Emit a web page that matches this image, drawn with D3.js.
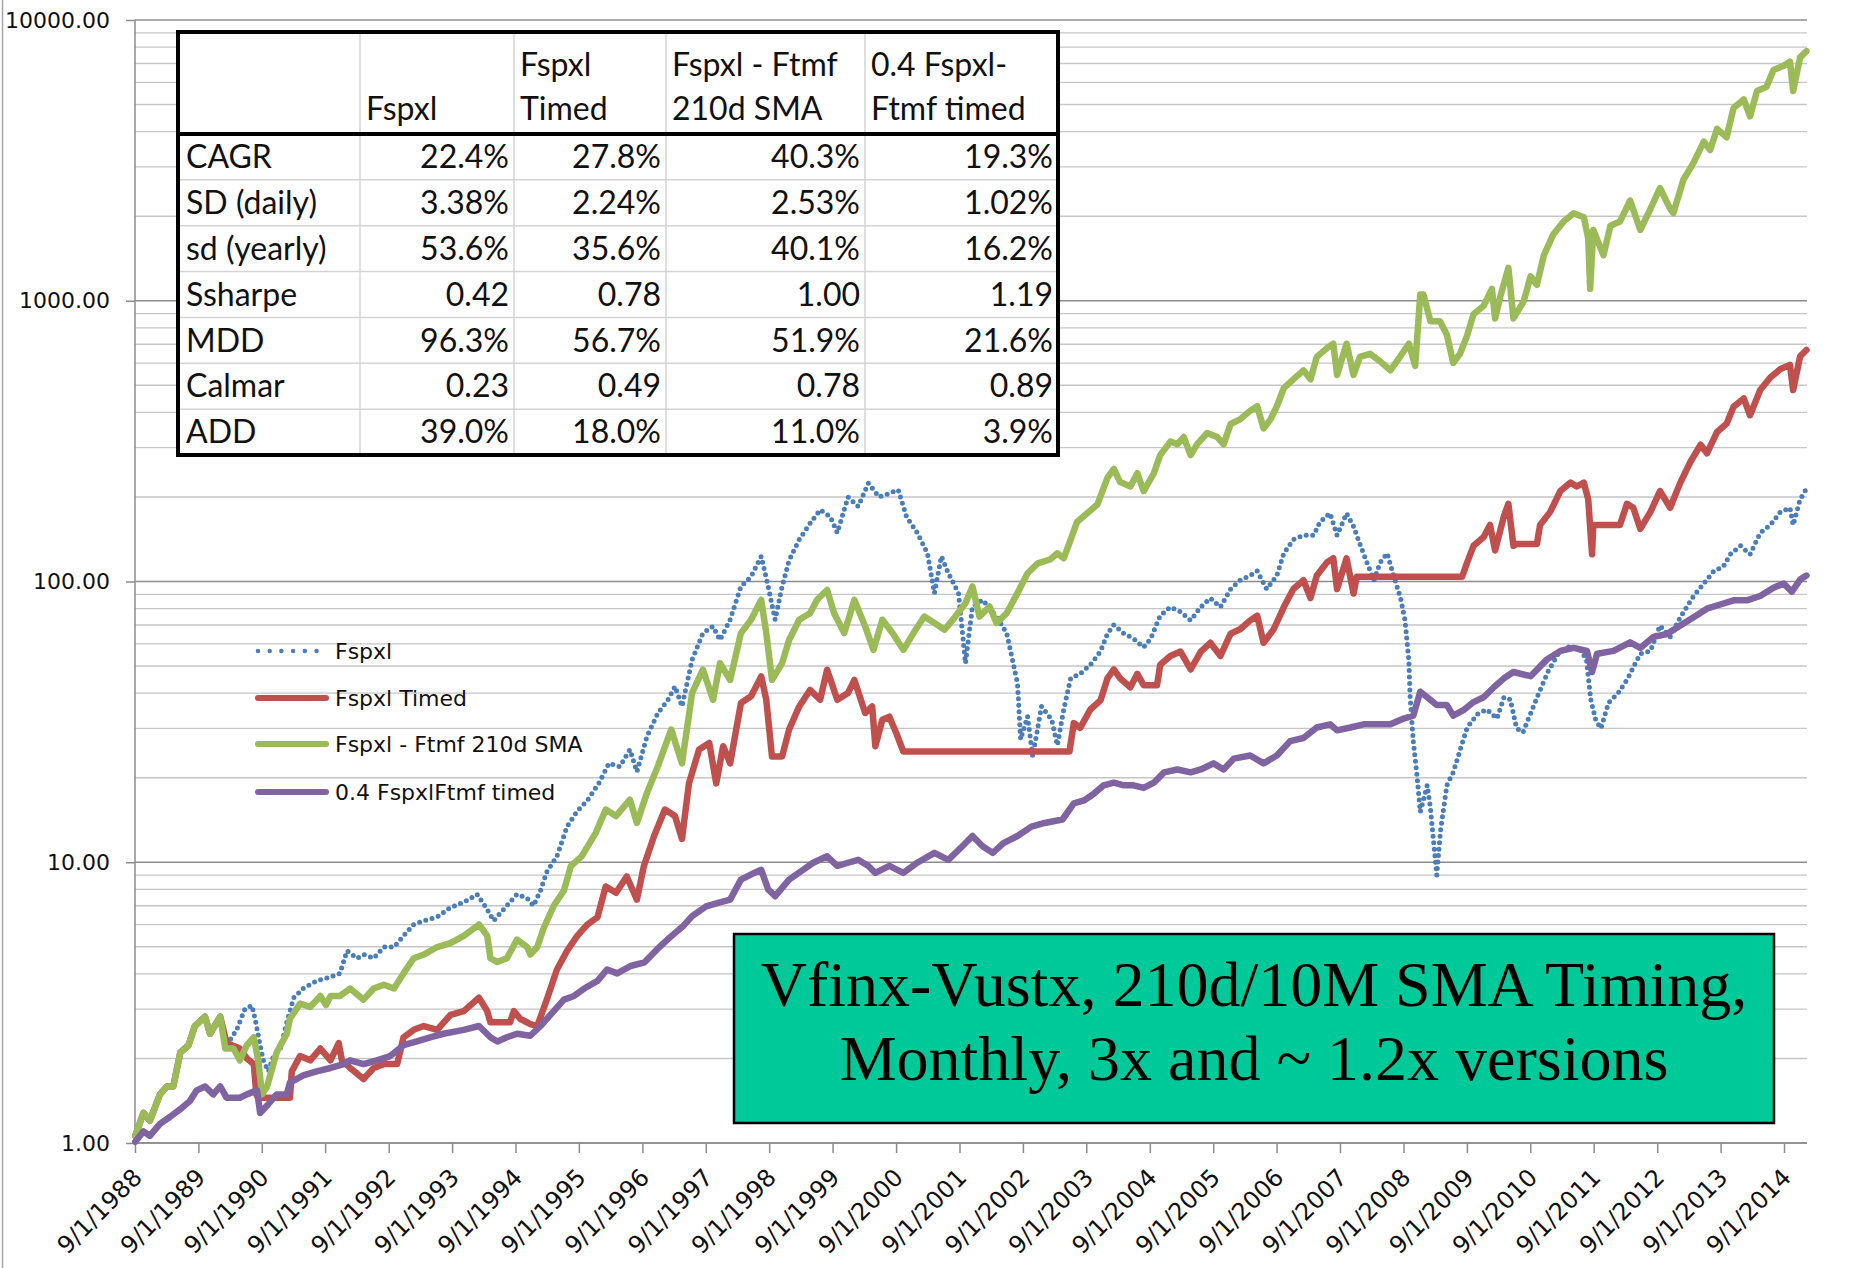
<!DOCTYPE html>
<html>
<head>
<meta charset="utf-8">
<script src="https://cdn.jsdelivr.net/npm/d3@7"></script>
<style>
  body { margin: 0; background: #fff; }
  svg { display: block; }
</style>
</head>
<body>
<div id="chart"></div>
<script>
// values, [decimal year, growth of $1]
const fspxl = [
  [1988.67,1.06],[1988.80,1.28],[1988.90,1.20],[1989.06,1.49],[1989.17,1.59],[1989.27,1.59],[1989.38,2.10],
  [1989.51,2.23],[1989.61,2.61],[1989.77,2.82],[1989.85,2.45],[1990.01,2.82],[1990.11,2.23],[1990.27,2.53],
  [1990.40,3.0],[1990.51,3.09],[1990.56,2.77],[1990.64,2.23],[1990.69,1.97],[1990.77,1.80],[1990.85,2.04],
  [1990.96,2.17],[1991.06,2.69],[1991.17,3.29],[1991.32,3.55],[1991.53,3.78],[1991.75,3.90],[1991.90,4.02],
  [1992.01,4.84],[1992.17,4.55],[1992.27,4.69],[1992.43,4.55],[1992.59,4.99],[1992.75,4.99],[1992.90,5.47],
  [1993.06,6.0],[1993.22,6.19],[1993.43,6.38],[1993.64,6.9],[1993.85,7.2],[1994.06,7.69],[1994.22,6.8],
  [1994.32,6.19],[1994.48,6.8],[1994.69,7.69],[1994.85,7.45],[1994.95,7.0],[1995.06,7.93],[1995.16,9.24],
  [1995.32,10.5],[1995.48,13.4],[1995.64,15.2],[1995.80,16.6],[1995.98,19.1],[1996.14,22.5],[1996.31,21.9],
  [1996.47,25.2],[1996.58,21],[1996.74,28.1],[1996.91,34],[1997.07,37.9],[1997.18,42.3],[1997.29,35.9],
  [1997.45,52.6],[1997.62,65.5],[1997.78,69.2],[1997.89,61.9],[1998.05,73.1],[1998.22,96],[1998.38,104],
  [1998.54,123],[1998.65,96],[1998.76,73.1],[1998.87,96],[1998.98,119],[1999.14,141],[1999.31,161],
  [1999.47,180],[1999.63,170],[1999.74,149],[1999.91,200],[2000.07,185],[2000.23,224],[2000.40,200],
  [2000.56,206],[2000.70,212],[2000.83,170],[2001.00,149],[2001.16,126],[2001.27,90.9],[2001.38,123],
  [2001.49,107],[2001.65,90.9],[2001.76,51.2],[2001.87,81.5],[2002.03,86],[2002.25,75],[2002.41,65.5],
  [2002.58,43.5],[2002.63,27.4],[2002.74,33.1],[2002.82,23.8],[2002.96,35.9],[2003.12,32.2],[2003.21,26.1],
  [2003.31,35],[2003.42,45.2],[2003.57,46.9],[2003.73,50.5],[2003.89,56.3],[2004.00,65.2],[2004.10,70.1],
  [2004.26,65.2],[2004.41,62.6],[2004.57,58.3],[2004.68,62.6],[2004.83,75.6],[2004.99,81.1],[2005.15,78],
  [2005.31,72.7],[2005.47,81.1],[2005.62,87.3],[2005.78,81.1],[2005.94,94],[2006.09,101],[2006.25,105],
  [2006.36,109],[2006.51,94],[2006.67,105],[2006.78,126],[2006.93,141],[2007.09,146],[2007.25,146],
  [2007.35,163],[2007.51,175],[2007.62,146],[2007.77,175],[2007.88,157],[2007.98,136],[2008.09,117],
  [2008.20,101],[2008.30,117],[2008.41,126],[2008.51,105],[2008.62,87.3],[2008.69,72.7],[2008.75,52.4],
  [2008.77,39],[2008.82,27],[2008.88,20.2],[2008.93,15.1],[2009.04,18.8],[2009.09,15.6],[2009.19,9.0],
  [2009.25,13],[2009.35,18.8],[2009.45,20.9],[2009.56,25.2],[2009.67,30.2],[2009.83,33.7],[2009.98,35],
  [2010.14,32.5],[2010.25,38.7],[2010.35,38],[2010.45,30],[2010.55,29],[2010.65,33],[2010.80,40],
  [2010.95,48],[2011.10,55],[2011.30,59],[2011.45,57],[2011.55,53],[2011.62,38],[2011.70,32],[2011.78,30],
  [2011.90,37],[2012.05,40],[2012.20,45],[2012.30,50],[2012.40,55.3],[2012.56,56.6],[2012.71,69.7],
  [2012.87,63.5],[2013.03,74.6],[2013.24,88.8],[2013.40,98.4],[2013.56,109],[2013.71,113],[2013.82,125],
  [2013.98,134],[2014.13,125],[2014.29,149],[2014.45,159],[2014.61,177],[2014.76,183],[2014.81,159],
  [2014.92,196],[2015.02,214]
];

const fspxlTimed = [
  [1988.67,1.06],[1988.80,1.28],[1988.90,1.20],[1989.06,1.49],[1989.17,1.59],[1989.27,1.59],[1989.38,2.10],
  [1989.51,2.23],[1989.61,2.61],[1989.77,2.82],[1989.85,2.45],[1990.01,2.82],[1990.11,2.27],[1990.32,2.17],
  [1990.43,2.0],[1990.54,1.91],[1990.58,1.49],[1990.61,1.45],[1991.11,1.45],[1991.14,1.80],[1991.27,2.04],
  [1991.43,1.97],[1991.59,2.17],[1991.75,1.97],[1991.88,2.27],[1991.93,1.97],[1992.06,1.85],[1992.27,1.69],
  [1992.43,1.85],[1992.59,1.91],[1992.80,1.91],[1992.90,2.38],[1993.06,2.53],[1993.22,2.61],[1993.43,2.53],
  [1993.64,2.86],[1993.85,2.95],[1994.09,3.29],[1994.22,2.95],[1994.27,2.69],[1994.58,2.69],[1994.64,2.95],
  [1994.74,2.77],[1994.90,2.65],[1995.01,2.61],[1995.16,3.24],[1995.32,4.15],[1995.48,4.84],[1995.64,5.47],
  [1995.80,6.0],[1995.96,6.38],[1996.09,8.2],[1996.25,7.78],[1996.42,8.9],[1996.58,7.36],[1996.69,9.7],
  [1996.85,12.4],[1997.02,15.4],[1997.18,14.6],[1997.29,12.1],[1997.40,19.1],[1997.56,25.2],[1997.72,26.6],
  [1997.83,19.1],[1997.94,25.9],[1998.05,22.5],[1998.22,36.9],[1998.38,39],[1998.54,45.9],[1998.62,37.9],
  [1998.71,23.8],[1998.87,23.8],[1998.98,29.7],[1999.14,35.9],[1999.31,41.1],[1999.47,37.9],[1999.58,48.5],
  [1999.74,37.9],[1999.91,40.1],[2000.01,44.6],[2000.18,34],[2000.29,35.9],[2000.34,25.9],[2000.45,32.2],
  [2000.56,33],[2000.67,28.8],[2000.78,24.8],[2003.40,24.8],[2003.47,31.3],[2003.57,30.1],[2003.73,35],
  [2003.89,37.7],[2004.00,45.2],[2004.10,48.6],[2004.20,45.2],[2004.36,42],[2004.47,46.9],[2004.57,42.7],
  [2004.78,42.7],[2004.83,50.5],[2004.99,54.3],[2005.15,56.3],[2005.31,48.6],[2005.47,56.3],[2005.62,60.5],
  [2005.78,54.3],[2005.94,65.2],[2006.09,67.6],[2006.25,72.7],[2006.36,75.5],[2006.46,60.5],[2006.62,67.6],
  [2006.78,81.1],[2006.93,94],[2007.09,101],[2007.20,87.3],[2007.30,105],[2007.46,117],[2007.56,121],
  [2007.62,94],[2007.77,121],[2007.88,90.6],[2007.93,104],[2009.59,104],[2009.67,117],[2009.77,134],
  [2009.93,144],[2010.03,159],[2010.11,129],[2010.25,171],[2010.32,189],[2010.40,134],[2010.45,136],
  [2010.77,136],[2010.82,159],[2010.98,177],[2011.14,210],[2011.30,225],[2011.40,218],[2011.51,225],
  [2011.58,196],[2011.64,125],[2011.66,159],[2012.08,159],[2012.19,189],[2012.29,183],[2012.40,154],
  [2012.56,177],[2012.71,210],[2012.87,183],[2013.03,225],[2013.19,267],[2013.35,307],[2013.45,286],
  [2013.61,341],[2013.76,365],[2013.87,419],[2014.03,449],[2014.13,391],[2014.29,481],[2014.45,533],
  [2014.61,571],[2014.76,591],[2014.81,481],[2014.92,634],[2015.02,668]
];

const fspxlFtmfSma = [
  [1988.67,1.06],[1988.80,1.28],[1988.90,1.20],[1989.06,1.49],[1989.17,1.59],[1989.27,1.59],[1989.38,2.10],
  [1989.51,2.23],[1989.61,2.61],[1989.77,2.82],[1989.85,2.45],[1990.01,2.82],[1990.09,2.17],[1990.22,2.17],
  [1990.32,1.97],[1990.43,2.23],[1990.54,2.38],[1990.61,1.97],[1990.67,1.49],[1990.75,1.59],[1990.90,2.10],
  [1991.06,2.45],[1991.11,2.77],[1991.27,3.14],[1991.43,3.05],[1991.59,3.34],[1991.68,3.1],[1991.75,3.34],
  [1991.90,3.34],[1992.06,3.55],[1992.27,3.24],[1992.43,3.55],[1992.59,3.66],[1992.75,3.55],[1992.90,4.02],
  [1993.06,4.55],[1993.22,4.69],[1993.43,4.99],[1993.64,5.15],[1993.85,5.47],[1994.09,6.0],[1994.22,5.47],
  [1994.27,4.55],[1994.38,4.41],[1994.53,4.55],[1994.69,5.30],[1994.85,4.99],[1994.90,4.69],[1995.01,4.99],
  [1995.11,5.82],[1995.27,7.0],[1995.43,7.93],[1995.54,9.7],[1995.71,10.5],[1995.93,12.7],[1996.09,15.4],
  [1996.25,14.6],[1996.47,16.7],[1996.58,13.8],[1996.74,17.7],[1996.91,22.0],[1997.12,29.7],[1997.29,22.5],
  [1997.45,40.1],[1997.62,48.5],[1997.78,37.9],[1997.89,51.2],[1998.05,44.6],[1998.22,65.5],[1998.38,73.1],
  [1998.54,86],[1998.62,65.5],[1998.71,44.6],[1998.87,51.2],[1998.98,61.9],[1999.14,73.1],[1999.31,77.1],
  [1999.42,86],[1999.58,93.3],[1999.69,77.1],[1999.85,65.5],[2000.01,86],[2000.18,69.2],[2000.31,57.1],
  [2000.45,73.1],[2000.61,65.5],[2000.78,57.1],[2000.94,65.5],[2001.11,75],[2001.27,71.1],[2001.43,67.3],
  [2001.60,75],[2001.76,83.7],[2001.87,96],[2001.98,75],[2002.14,81.5],[2002.25,71.1],[2002.41,77.1],
  [2002.58,90.9],[2002.74,107],[2002.90,116],[2003.10,120],[2003.21,126],[2003.31,121],[2003.42,141],
  [2003.52,163],[2003.68,175],[2003.84,188],[2004.00,234],[2004.10,252],[2004.20,226],[2004.36,218],
  [2004.47,243],[2004.57,210],[2004.73,243],[2004.83,282],[2004.99,315],[2005.10,308],[2005.20,327],
  [2005.31,282],[2005.41,308],[2005.57,338],[2005.73,327],[2005.83,308],[2005.94,364],[2006.09,378],
  [2006.25,406],[2006.36,421],[2006.46,351],[2006.57,378],[2006.67,421],[2006.78,488],[2006.93,525],
  [2007.09,565],[2007.20,525],[2007.30,631],[2007.46,678],[2007.56,703],[2007.62,544],[2007.77,703],
  [2007.88,544],[2007.98,631],[2008.14,647],[2008.30,608],[2008.46,565],[2008.61,631],[2008.75,703],
  [2008.85,586],[2008.93,1052],[2008.98,1052],[2009.09,845],[2009.24,845],[2009.35,757],[2009.45,600],
  [2009.56,650],[2009.67,753],[2009.77,896],[2009.93,960],[2010.06,1102],[2010.11,865],[2010.19,1028],
  [2010.32,1309],[2010.40,865],[2010.56,993],[2010.67,1222],[2010.77,1140],[2010.88,1452],[2011.03,1726],
  [2011.19,1914],[2011.35,2051],[2011.51,1984],[2011.58,1668],[2011.61,1102],[2011.66,1787],[2011.82,1452],
  [2011.93,1850],[2012.08,1914],[2012.24,2275],[2012.40,1787],[2012.56,2124],[2012.71,2521],[2012.87,2124],
  [2012.92,2051],[2013.08,2704],[2013.24,3105],[2013.40,3690],[2013.50,3444],[2013.61,4094],[2013.76,3820],
  [2013.87,4864],[2014.03,5212],[2014.13,4540],[2014.24,5585],[2014.39,5780],[2014.50,6637],[2014.66,6870],
  [2014.76,7110],[2014.81,5585],[2014.92,7360],[2015.02,7750]
];

const fspxlFtmfTimed = [
  [1988.67,1.01],[1988.80,1.10],[1988.90,1.06],[1989.06,1.17],[1989.22,1.24],[1989.38,1.32],[1989.53,1.41],
  [1989.64,1.54],[1989.77,1.59],[1989.90,1.49],[1990.01,1.59],[1990.11,1.45],[1990.32,1.45],[1990.43,1.49],
  [1990.59,1.54],[1990.64,1.28],[1990.75,1.36],[1990.90,1.49],[1991.06,1.49],[1991.11,1.64],[1991.32,1.74],
  [1991.53,1.80],[1991.75,1.85],[1991.96,1.91],[1992.06,1.97],[1992.27,1.91],[1992.48,1.97],[1992.69,2.04],
  [1992.90,2.23],[1993.11,2.30],[1993.32,2.38],[1993.53,2.45],[1993.85,2.53],[1994.09,2.61],[1994.27,2.38],
  [1994.38,2.30],[1994.53,2.38],[1994.69,2.45],[1994.90,2.41],[1995.06,2.61],[1995.27,2.95],[1995.43,3.24],
  [1995.59,3.34],[1995.75,3.55],[1995.96,3.78],[1996.11,4.15],[1996.27,4.02],[1996.48,4.27],[1996.70,4.4],
  [1996.90,4.9],[1997.10,5.4],[1997.30,5.9],[1997.45,6.43],[1997.67,6.96],[1997.89,7.2],[1998.05,7.36],
  [1998.22,8.67],[1998.43,9.16],[1998.54,9.4],[1998.65,8.0],[1998.76,7.57],[1998.98,8.67],[1999.20,9.4],
  [1999.36,9.96],[1999.58,10.5],[1999.74,9.7],[1999.91,9.96],[2000.07,10.2],[2000.23,9.7],[2000.34,9.16],
  [2000.56,9.7],[2000.78,9.16],[2001.00,9.96],[2001.27,10.8],[2001.49,10.2],[2001.71,11.4],[2001.87,12.4],
  [2002.03,11.4],[2002.19,10.8],[2002.36,11.7],[2002.58,12.4],[2002.80,13.4],[2003.01,13.8],[2003.29,14.2],
  [2003.47,16.2],[2003.63,16.6],[2003.78,17.5],[2003.94,18.8],[2004.10,19.2],[2004.26,18.8],[2004.41,18.8],
  [2004.57,18.4],[2004.73,19.2],[2004.89,20.9],[2005.10,21.4],[2005.31,20.9],[2005.47,21.4],[2005.67,22.5],
  [2005.83,21.4],[2005.99,23.4],[2006.25,24],[2006.46,22.5],[2006.67,24],[2006.88,27],[2007.09,27.7],
  [2007.30,30.2],[2007.51,31],[2007.62,29.5],[2007.83,30.2],[2008.04,31],[2008.25,31],[2008.46,31],
  [2008.67,32.5],[2008.82,33.3],[2008.93,40.5],[2009.04,38.7],[2009.19,36.3],[2009.35,36.3],[2009.45,33.3],
  [2009.61,34.8],[2009.77,37.2],[2009.93,38.7],[2010.09,42],[2010.25,45.2],[2010.40,47.6],[2010.67,46],
  [2010.93,52.8],[2011.14,56.6],[2011.35,58],[2011.56,56.6],[2011.64,47.6],[2011.72,55.3],[2011.98,56.6],
  [2012.24,60.7],[2012.40,58],[2012.61,63.5],[2012.82,65],[2013.03,69.7],[2013.24,74.6],[2013.45,80],
  [2013.66,82.8],[2013.87,85.7],[2014.08,85.7],[2014.29,88.8],[2014.50,95],[2014.66,98.4],[2014.79,91.9],
  [2014.92,101.6],[2015.02,105]
];

const seriesNames = ["Fspxl", "Fspxl Timed", "Fspxl - Ftmf 210d SMA", "0.4 FspxlFtmf timed"];
const seriesColors = ["#4a7ebb", "#c0504d", "#9bbb59", "#8064a2"];
const yTicks = [1, 10, 100, 1000, 10000];
const tickYears = d3.range(1988, 2015);

// stats table
const tableHeaders = [["", "Fspxl"], ["Fspxl", "Timed"], ["Fspxl - Ftmf", "210d SMA"], ["0.4 Fspxl-", "Ftmf timed"]];
const rowLabels = ["CAGR", "SD (daily)", "sd (yearly)", "Ssharpe", "MDD", "Calmar", "ADD"];
const tableValues = [
  ["22.4%", "27.8%", "40.3%", "19.3%"],
  ["3.38%", "2.24%", "2.53%", "1.02%"],
  ["53.6%", "35.6%", "40.1%", "16.2%"],
  ["0.42", "0.78", "1.00", "1.19"],
  ["96.3%", "56.7%", "51.9%", "21.6%"],
  ["0.23", "0.49", "0.78", "0.89"],
  ["39.0%", "18.0%", "11.0%", "3.9%"]
];
const titleLines = ["Vfinx-Vustx, 210d/10M SMA Timing,", "Monthly, 3x and ~ 1.2x versions"];

const W = 1864, H = 1268;
const plotL = 135, plotR = 1807, plotT = 20, plotB = 1143;

const svg = d3.select("#chart").append("svg").attr("width", W).attr("height", H);

// decimal year -> Date
function toDate(t) {
  const yr = Math.floor(t);
  const s = new Date(yr, 0, 1), e = new Date(yr + 1, 0, 1);
  return new Date(+s + (t - yr) * (e - s));
}

const x = d3.scaleTime()
  .domain([new Date(1988, 8, 1), new Date(2014, 8, 1)])
  .range([plotL, 1784]);
const y = d3.scaleLog().domain([1, 10000]).range([plotB, plotT]);

// outer frame line on the left
svg.append("line").attr("x1", 2.5).attr("x2", 2.5).attr("y1", 0).attr("y2", H)
  .attr("stroke", "#a6a6a6").attr("stroke-width", 1.5);

// gridlines
const minorVals = [];
for (let d = 1; d < 10000; d *= 10) for (let m = 2; m < 10; m++) minorVals.push(d * m);

svg.append("g").selectAll("line").data(minorVals).join("line")
  .attr("x1", plotL).attr("x2", plotR)
  .attr("y1", d => y(d)).attr("y2", d => y(d))
  .attr("stroke", "#c6c6c6").attr("stroke-width", 1.3);

svg.append("g").selectAll("line").data(yTicks).join("line")
  .attr("x1", plotL).attr("x2", plotR)
  .attr("y1", d => y(d)).attr("y2", d => y(d))
  .attr("stroke", "#8c8c8c").attr("stroke-width", 1.5);

// y axis
const yAxis = svg.append("g").attr("transform", `translate(${plotL},0)`)
  .call(d3.axisLeft(y).tickValues(yTicks).tickFormat(d3.format(".2f")).tickSize(9).tickPadding(16));
yAxis.select(".domain").remove();
yAxis.selectAll(".tick line").attr("stroke", "#8c8c8c").attr("stroke-width", 1.5);
yAxis.selectAll(".tick text").attr("font-family", "DejaVu Sans").attr("font-size", 22).attr("fill", "#111");
svg.append("line").attr("x1", plotL).attr("x2", plotL).attr("y1", plotT).attr("y2", plotB)
  .attr("stroke", "#8c8c8c").attr("stroke-width", 1.5);

// x axis
const xAxis = svg.append("g").attr("transform", `translate(0,${plotB})`)
  .call(d3.axisBottom(x)
    .tickValues(tickYears.map(yr => new Date(yr, 8, 1)))
    .tickFormat(d3.timeFormat("%-m/%-d/%Y"))
    .tickSize(10));
xAxis.select(".domain").remove();
xAxis.selectAll(".tick line").attr("stroke", "#8c8c8c").attr("stroke-width", 1.5);
xAxis.selectAll(".tick text")
  .attr("font-family", "DejaVu Sans").attr("font-size", 24).attr("fill", "#111")
  .attr("y", 0).attr("dy", "0.35em").attr("text-anchor", "end")
  .attr("transform", "translate(2,30) rotate(-45)");
svg.append("line").attr("x1", plotL).attr("x2", plotR).attr("y1", plotB).attr("y2", plotB)
  .attr("stroke", "#8c8c8c").attr("stroke-width", 1.5);

// series
const line = d3.line().x(d => x(toDate(d[0]))).y(d => y(d[1]));
const allSeries = [fspxl, fspxlTimed, fspxlFtmfSma, fspxlFtmfTimed];

allSeries.forEach((pts, i) => {
  const p = svg.append("path").datum(pts)
    .attr("d", line)
    .attr("fill", "none")
    .attr("stroke", seriesColors[i])
    .attr("stroke-linejoin", "round")
    .attr("stroke-linecap", "round");
  if (i === 0) p.attr("stroke-width", 5).attr("stroke-dasharray", "0 6.5");
  else p.attr("stroke-width", 6.5);
});

// legend
const legend = svg.append("g");
const legY = [651, 698, 744, 792];
seriesNames.forEach((name, i) => {
  const l = legend.append("line")
    .attr("x1", 258).attr("x2", i === 0 ? 320 : 326)
    .attr("y1", legY[i]).attr("y2", legY[i])
    .attr("stroke", seriesColors[i]).attr("stroke-linecap", "round");
  if (i === 0) l.attr("stroke-width", 4.5).attr("stroke-dasharray", "0 11.7");
  else l.attr("stroke-width", 6);
  legend.append("text").attr("x", 335).attr("y", legY[i]).attr("dy", "0.36em")
    .attr("font-family", "DejaVu Sans").attr("font-size", 22).attr("fill", "#111")
    .text(name);
});

// table
const colEdges = [178, 360, 514, 666, 865, 1058];
const tTop = 32, tHead = 134, tBottom = 455;
const rowBand = d3.scaleBand().domain(rowLabels).range([tHead, tBottom]);
const tbl = svg.append("g").attr("font-family", "Lato").attr("font-size", 32).attr("fill", "#111");

tbl.append("rect").attr("x", colEdges[0]).attr("y", tTop)
  .attr("width", colEdges[5] - colEdges[0]).attr("height", tBottom - tTop).attr("fill", "#fff");

tbl.selectAll("line.rowline").data(rowLabels.slice(1)).join("line").attr("class", "rowline")
  .attr("x1", colEdges[0]).attr("x2", colEdges[5])
  .attr("y1", d => rowBand(d)).attr("y2", d => rowBand(d))
  .attr("stroke", "#d4d4d4").attr("stroke-width", 1.5);
tbl.selectAll("line.colline").data(colEdges.slice(1, 5)).join("line").attr("class", "colline")
  .attr("x1", d => d).attr("x2", d => d).attr("y1", tTop).attr("y2", tBottom)
  .attr("stroke", "#d4d4d4").attr("stroke-width", 1.5);

tableHeaders.forEach((lines, c) => {
  lines.forEach((txt, k) => {
    tbl.append("text").attr("x", colEdges[c + 1] + 6).attr("y", k === 0 ? 65 : 109)
      .attr("dy", "0.35em").text(txt);
  });
});
rowLabels.forEach((lab, r) => {
  const cy = rowBand(lab) + rowBand.bandwidth() / 2;
  tbl.append("text").attr("x", colEdges[0] + 8).attr("y", cy).attr("dy", "0.35em").text(lab);
  tableValues[r].forEach((v, c) => {
    tbl.append("text").attr("x", colEdges[c + 2] - 5).attr("y", cy).attr("dy", "0.35em")
      .attr("text-anchor", "end").text(v);
  });
});
tbl.append("line").attr("x1", colEdges[0]).attr("x2", colEdges[5]).attr("y1", tHead).attr("y2", tHead)
  .attr("stroke", "#000").attr("stroke-width", 4);
tbl.append("rect").attr("x", colEdges[0]).attr("y", tTop)
  .attr("width", colEdges[5] - colEdges[0]).attr("height", tBottom - tTop)
  .attr("fill", "none").attr("stroke", "#000").attr("stroke-width", 4);

// title box
const box = svg.append("g");
box.append("rect").attr("x", 734).attr("y", 934).attr("width", 1040).attr("height", 189)
  .attr("fill", "#00c999").attr("stroke", "#000").attr("stroke-width", 2.5);
titleLines.forEach((t, i) => {
  box.append("text").attr("x", 1254).attr("y", i === 0 ? 1006 : 1080)
    .attr("text-anchor", "middle")
    .attr("font-family", "Liberation Serif").attr("font-size", 64).attr("fill", "#000")
    .text(t);
});
</script>
</body>
</html>
